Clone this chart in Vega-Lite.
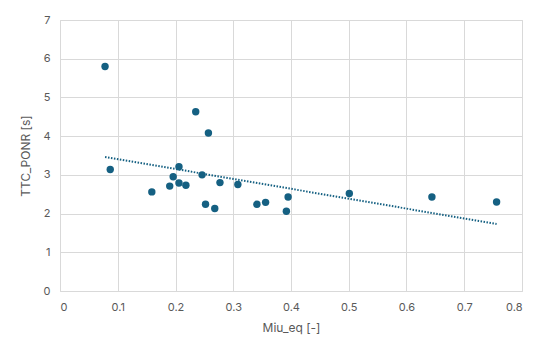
{
  "$schema": "https://vega.github.io/schema/vega-lite/v6.json",
  "autosize": "none",
  "width": 462,
  "height": 271,
  "padding": {"left": 60, "top": 20, "right": 28, "bottom": 65},
  "background": "white",
  "config": {
    "view": {"stroke": "#d9d9d9", "strokeWidth": 1},
    "axis": {
      "labelFont": "Inter",
      "titleFont": "Inter",
      "labelColor": "#595959",
      "titleColor": "#595959",
      "labelFontSize": 11,
      "titleFontSize": 12,
      "titleFontWeight": "normal",
      "gridColor": "#d9d9d9",
      "gridWidth": 1,
      "domain": false,
      "ticks": false,
      "labelPadding": 10,
      "labelOverlap": false
    }
  },
  "data": {
    "values": [
      {"miu": 0.078, "ttc": 5.80},
      {"miu": 0.087, "ttc": 3.14},
      {"miu": 0.235, "ttc": 4.63},
      {"miu": 0.257, "ttc": 4.08},
      {"miu": 0.206, "ttc": 3.21},
      {"miu": 0.196, "ttc": 2.95},
      {"miu": 0.246, "ttc": 3.00},
      {"miu": 0.159, "ttc": 2.56},
      {"miu": 0.190, "ttc": 2.71},
      {"miu": 0.206, "ttc": 2.79},
      {"miu": 0.218, "ttc": 2.73},
      {"miu": 0.277, "ttc": 2.80},
      {"miu": 0.308, "ttc": 2.75},
      {"miu": 0.252, "ttc": 2.24},
      {"miu": 0.268, "ttc": 2.13},
      {"miu": 0.341, "ttc": 2.24},
      {"miu": 0.356, "ttc": 2.29},
      {"miu": 0.395, "ttc": 2.43},
      {"miu": 0.392, "ttc": 2.06},
      {"miu": 0.501, "ttc": 2.52},
      {"miu": 0.644, "ttc": 2.43},
      {"miu": 0.756, "ttc": 2.30}
    ]
  },
  "encoding": {
    "x": {
      "field": "miu",
      "type": "quantitative",
      "scale": {"domain": [0, 0.8], "nice": false, "zero": true},
      "axis": {"values": [0, 0.1, 0.2, 0.3, 0.4, 0.5, 0.6, 0.7, 0.8], "format": "~g", "title": "Miu_eq [-]", "titlePadding": 10}
    },
    "y": {
      "field": "ttc",
      "type": "quantitative",
      "scale": {"domain": [0, 7], "nice": false, "zero": true},
      "axis": {"values": [0, 1, 2, 3, 4, 5, 6, 7], "format": "~g", "title": "TTC_PONR [s]", "titlePadding": 10}
    }
  },
  "layer": [
    {
      "transform": [{"regression": "ttc", "on": "miu"}],
      "mark": {"type": "line", "color": "#156082", "strokeWidth": 2, "strokeDash": [1.5, 1.5]}
    },
    {
      "mark": {"type": "circle", "color": "#156082", "opacity": 1, "size": 55}
    }
  ]
}
